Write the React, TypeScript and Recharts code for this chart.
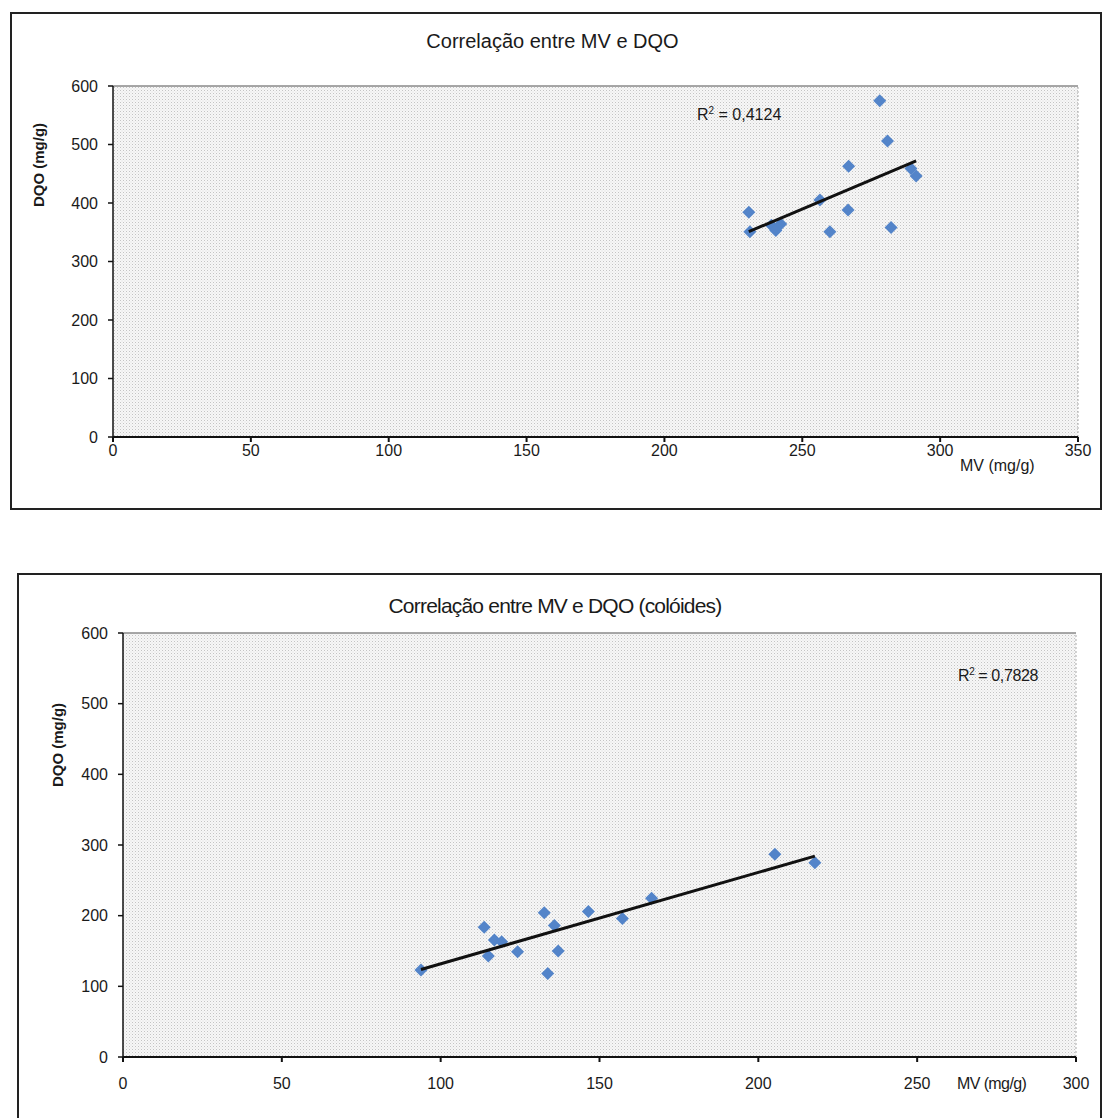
import React from 'react';
import { ScatterChart, Scatter, XAxis, YAxis, CartesianGrid, ReferenceLine } from 'recharts';

// MV (x) and DQO (y) readings, first chart
const mvTotal = [230.6, 231, 238.8, 240.4, 242.2, 256.4, 260, 266.6, 266.8, 278.1, 280.9, 282.2, 289.4, 291.3];
const dqoTotal = [384, 351, 362, 353, 364, 405, 351, 388, 463, 575, 506, 358, 459, 446];

// MV (x) and DQO (y) readings, colloids chart
const mvColoides = [93.8, 113.7, 116.9, 119.2, 115, 124.2, 132.6, 135.8, 137, 133.7, 146.5, 157.2, 166.4, 205.2, 217.8];
const dqoColoides = [123, 183.5, 165.6, 163, 143, 149, 204, 186, 150, 118, 206, 196, 224.5, 287, 275];

const xTicksTop = [0, 50, 100, 150, 200, 250, 300, 350];
const xTicksBottom = [0, 50, 100, 150, 200, 250, 300];
const yTicks = [0, 100, 200, 300, 400, 500, 600];

const FONT = '"Liberation Sans", Arial, sans-serif';
const MARKER = '#5384c9';

const toPoints = (xs: number[], ys: number[]) => xs.map((x, i) => ({ x, y: ys[i] }));

// least squares trendline over the data range
const trendOf = (xs: number[], ys: number[]) => {
  const n = xs.length;
  const mx = xs.reduce((a, b) => a + b, 0) / n;
  const my = ys.reduce((a, b) => a + b, 0) / n;
  let sxy = 0;
  let sxx = 0;
  xs.forEach((x, i) => {
    sxy += (x - mx) * (ys[i] - my);
    sxx += (x - mx) * (x - mx);
  });
  const b = sxy / sxx;
  const a = my - b * mx;
  const lo = Math.min(...xs);
  const hi = Math.max(...xs);
  return [
    { x: lo, y: a + b * lo },
    { x: hi, y: a + b * hi },
  ];
};

const Diamond = (props: any) => {
  const { cx, cy } = props;
  if (cx == null || cy == null) return <g />;
  const r = 6.5;
  return <polygon points={`${cx},${cy - r} ${cx + r},${cy} ${cx},${cy + r} ${cx - r},${cy}`} fill={MARKER} />;
};

const NoShape = () => <g />;

interface PanelProps {
  top: number;
  height: number;
  margin: { top: number; right: number; bottom: number; left: number };
  xMax: number;
  xTicks: number[];
  xs: number[];
  ys: number[];
  tickMargin: number;
}

const Panel: React.FC<PanelProps> = ({ top, height, margin, xMax, xTicks, xs, ys, tickMargin }) => {
  const tick = { fontSize: 16, fill: '#1a1a1a', fontFamily: FONT };
  return (
    <div style={{ position: 'absolute', left: 0, top, width: 1105, height }}>
      <ScatterChart width={1105} height={height} margin={margin}>
        <CartesianGrid horizontal={false} vertical={false} fill="url(#dots)" />
        <XAxis
          type="number"
          dataKey="x"
          domain={[0, xMax]}
          ticks={xTicks}
          tick={tick}
          tickSize={5}
          tickMargin={tickMargin}
          height={30}
          stroke="#111"
          strokeWidth={2}
          allowDataOverflow
        />
        <YAxis
          type="number"
          dataKey="y"
          domain={[0, 600]}
          ticks={yTicks}
          tick={tick}
          tickSize={5}
          tickMargin={10}
          width={60}
          stroke="#111"
          strokeWidth={1.5}
          allowDataOverflow
        />
        <ReferenceLine y={600} stroke="#8a8a8a" strokeWidth={1.5} />
        <ReferenceLine x={xMax} stroke="#aaa" strokeDasharray="2 2" />
        <Scatter data={toPoints(xs, ys)} shape={Diamond} isAnimationActive={false} />
        <Scatter
          data={trendOf(xs, ys)}
          line={{ stroke: '#111', strokeWidth: 3 }}
          shape={NoShape}
          isAnimationActive={false}
        />
      </ScatterChart>
    </div>
  );
};

const text = (extra: React.CSSProperties): React.CSSProperties => ({
  position: 'absolute',
  fontFamily: FONT,
  color: '#1a1a1a',
  whiteSpace: 'nowrap',
  ...extra,
});

export default function App() {
  return (
    <div style={{ position: 'absolute', left: 0, top: 0, width: 1105, height: 1118, overflow: 'hidden', background: '#fff' }}>
      <svg width={0} height={0} style={{ position: 'absolute' }}>
        <defs>
          <pattern id="dots" width={3} height={3} patternUnits="userSpaceOnUse">
            <rect width={3} height={3} fill="#f7f7f7" />
            <rect width={1} height={1} fill="#c4c4c4" />
            <rect x={1.5} y={1.5} width={1} height={1} fill="#dcdcdc" />
          </pattern>
        </defs>
      </svg>

      {/* first chart */}
      <div style={{ position: 'absolute', left: 10, top: 12, width: 1088, height: 494, border: '2px solid #222' }} />
      <Panel
        top={0}
        height={510}
        margin={{ top: 86, right: 27, bottom: 43, left: 53 }}
        xMax={350}
        xTicks={xTicksTop}
        xs={mvTotal}
        ys={dqoTotal}
        tickMargin={3}
      />
      <div style={text({ left: 0, width: 1105, top: 30, textAlign: 'center', fontSize: 20 })}>Correlação entre MV e DQO</div>
      <div style={text({ left: 38, top: 165, fontSize: 15, fontWeight: 'bold', transform: 'translate(-50%, -50%) rotate(-90deg)' })}>
        DQO (mg/g)
      </div>
      <div style={text({ left: 960, top: 457, fontSize: 16 })}>MV (mg/g)</div>
      <div style={text({ left: 697, top: 105, fontSize: 16 })}>
        R<sup style={{ fontSize: 10 }}>2</sup> = 0,4124
      </div>

      {/* second chart */}
      <div style={{ position: 'absolute', left: 17, top: 573, width: 1081, height: 600, border: '2px solid #222' }} />
      <Panel
        top={560}
        height={558}
        margin={{ top: 73, right: 29, bottom: 31, left: 63 }}
        xMax={300}
        xTicks={xTicksBottom}
        xs={mvColoides}
        ys={dqoColoides}
        tickMargin={16}
      />
      <div style={text({ left: 0, width: 1110, top: 594, textAlign: 'center', fontSize: 21, letterSpacing: -0.8 })}>
        Correlação entre MV e DQO (colóides)
      </div>
      <div style={text({ left: 57, top: 745, fontSize: 15, fontWeight: 'bold', transform: 'translate(-50%, -50%) rotate(-90deg)' })}>
        DQO (mg/g)
      </div>
      <div style={text({ left: 957, top: 1075, fontSize: 16, letterSpacing: -0.6 })}>MV (mg/g)</div>
      <div style={text({ left: 958, top: 666, fontSize: 16, letterSpacing: -0.4 })}>
        R<sup style={{ fontSize: 10 }}>2</sup> = 0,7828
      </div>
    </div>
  );
}
